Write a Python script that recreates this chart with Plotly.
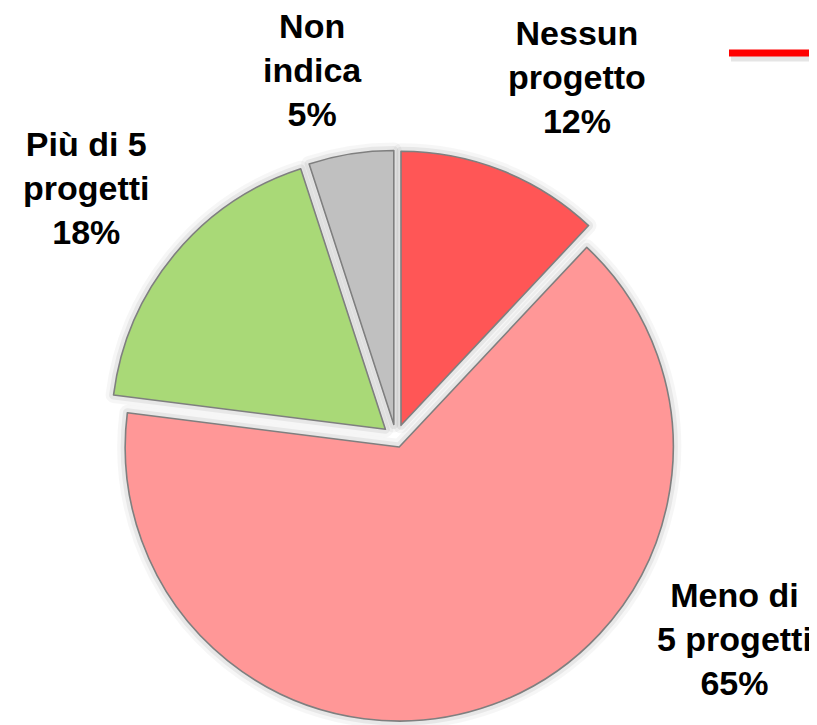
import plotly.graph_objects as go

# Data
categories = ["Nessun progetto", "Meno di 5 progetti", "Più di 5 progetti", "Non indica"]
label_lines = ["Nessun<br>progetto", "Meno di<br>5 progetti", "Più di 5<br>progetti", "Non<br>indica"]
values = [12, 65, 18, 5]

colors = ["#FF5656", "#FF9797", "#A9D977", "#C0C0C0"]
pulls = [0.05, 0.035, 0.05, 0.05]

W, H = 817, 725
domain = dict(x=[0.1227, 0.8270], y=[0.0004, 0.8133])

fig = go.Figure()

# soft shadow/glow layers behind slices
for lw, alpha in [(16, 0.035), (9, 0.06)]:
    fig.add_trace(go.Pie(
        labels=categories, values=values, sort=False, direction="clockwise",
        rotation=0, pull=pulls, domain=domain, textinfo="none", hoverinfo="skip",
        marker=dict(colors=[f"rgba(0,0,0,{alpha})"] * 4,
                    line=dict(color=f"rgba(0,0,0,{alpha})", width=lw)),
        showlegend=False,
    ))

fig.add_trace(go.Pie(
    labels=categories, values=values, sort=False, direction="clockwise",
    rotation=0, pull=pulls, domain=domain, textinfo="none",
    marker=dict(colors=colors, line=dict(color="#7F7F7F", width=1.6)),
    showlegend=False,
))

# label anchor positions (pixels) for outside labels
label_pos = [(569, 69), (726, 631), (78, 180), (304, 62)]
total = sum(values)
for txt, v, (px, py) in zip(label_lines, values, label_pos):
    fig.add_annotation(
        x=px / W, y=(H - py) / H, xref="paper", yref="paper",
        text=f"{txt}<br>{round(100 * v / total)}%", showarrow=False,
        xanchor="center", yanchor="middle", align="center",
        font=dict(family="Liberation Sans, Arial, sans-serif", size=34, color="#000000", weight="bold"),
    )

# decorative red line at top right with shadow
fig.add_shape(type="line", xref="paper", yref="paper",
              x0=723 / W, x1=1.0, y0=(H - 50) / H, y1=(H - 50) / H,
              line=dict(color="rgba(0,0,0,0.10)", width=7))
fig.add_shape(type="line", xref="paper", yref="paper",
              x0=721 / W, x1=1.0, y0=(H - 45) / H, y1=(H - 45) / H,
              line=dict(color="#FF0000", width=7))

fig.update_layout(
    width=W, height=H,
    margin=dict(l=0, r=0, t=0, b=0),
    paper_bgcolor="white", plot_bgcolor="white",
    showlegend=False,
)

fig.write_html("out.html")
